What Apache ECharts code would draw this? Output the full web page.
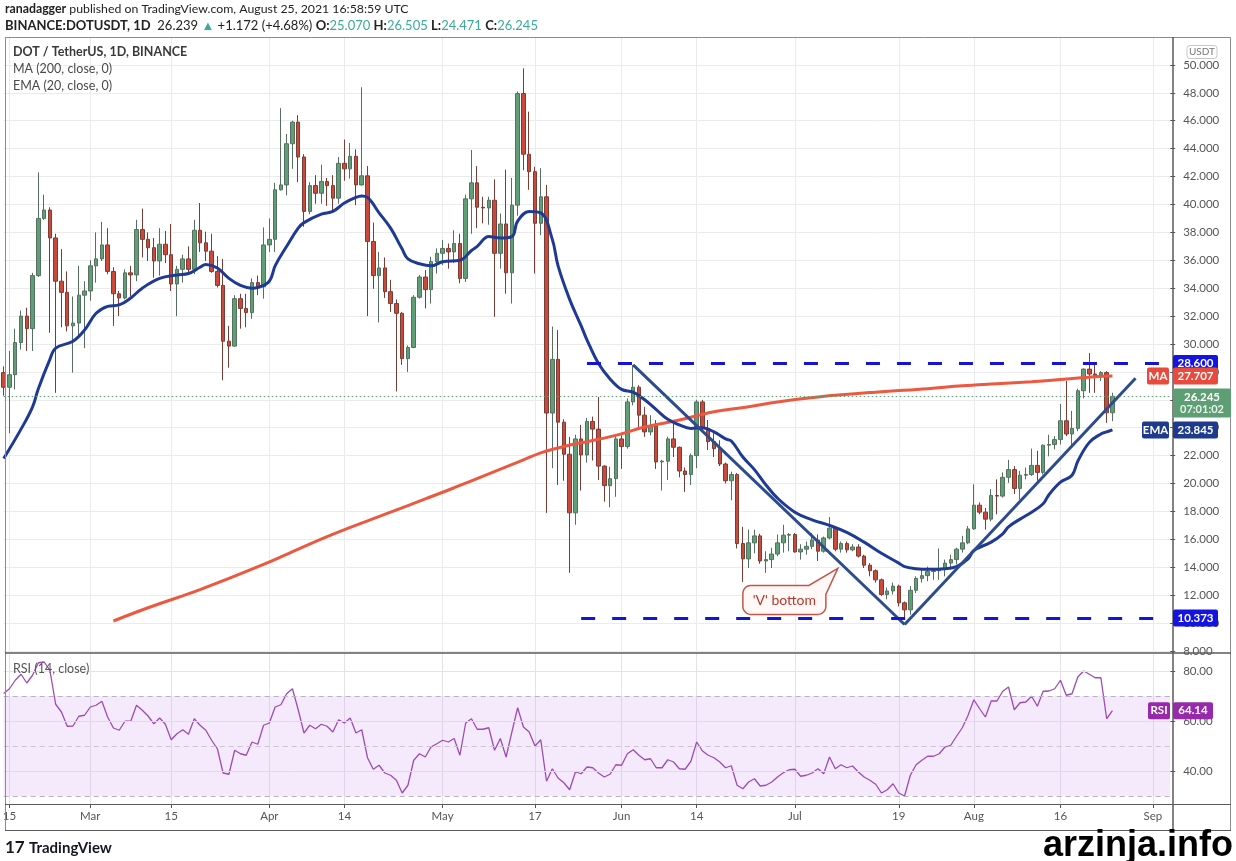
<!DOCTYPE html>
<html><head><meta charset="utf-8">
<script src="https://cdn.jsdelivr.net/npm/echarts@6/dist/echarts.min.js"></script>
<style>html,body{margin:0;padding:0;background:#fff;}#c{width:1236px;height:861px;}</style>
</head><body><div id="c"></div>
<script>
// ---------- data ----------
const firstDay = '2021-02-14';
const dayCount = 203; // axis runs to 2021-09-04
const tickDates = ['2021-02-15','2021-03-01','2021-03-15','2021-04-01','2021-04-14','2021-05-01','2021-05-17','2021-06-01','2021-06-14','2021-07-01','2021-07-19','2021-08-01','2021-08-16','2021-09-01'];
const tickTexts = ['15','Mar','15','Apr','14','May','17','Jun','14','Jul','19','Aug','16','Sep'];

// daily candles [open, high, low, close]
const febCandles = [
[27.95,28.4,26.3,26.9],[26.9,29.5,23.6,27.8],[27.8,31.1,26.75,30.1],[30.1,32.4,29.6,32.0],[32.0,32.6,29.5,31.1],
[31.1,35.1,29.5,34.9],[34.9,42.3,34.8,39.0],[39.0,40.7,38.9,39.6],[39.6,39.8,30.8,37.6],[37.6,37.9,26.5,34.5],
[34.5,36.8,31.2,33.7],[33.7,35.2,30.9,31.3],[31.3,33.4,27.95,31.5],[31.5,35.6,30.5,33.5],[33.5,34.5,29.7,33.8]];
const marCandles = [
[33.8,36.0,33.1,35.6],[35.6,38.0,34.4,36.1],[36.1,38.75,35.95,37.1],[37.1,38.3,35.0,35.2],[35.2,35.5,31.3,33.6],
[33.6,33.8,32.0,33.3],[33.3,35.35,33.2,35.1],[35.1,35.6,33.4,34.95],[34.95,38.9,34.5,38.2],[38.2,39.7,36.2,37.5],
[37.5,38.0,35.95,36.9],[36.9,37.6,34.75,35.95],[35.95,38.3,34.9,37.15],[37.15,38.1,35.8,36.4],[36.4,38.6,33.8,34.3],
[34.3,35.6,32.0,35.35],[35.35,36.4,34.4,36.1],[36.1,37.0,35.1,35.35],[35.35,38.9,35.0,38.15],[38.15,40.1,36.6,37.25],
[37.25,38.05,35.95,36.65],[36.65,37.9,35.1,35.2],[35.2,36.3,34.05,34.2],[34.2,36.1,27.4,30.2],[30.2,31.3,28.3,29.85],
[29.85,33.5,29.8,33.25],[33.25,33.6,31.1,32.55],[32.55,33.6,31.2,32.25],[32.25,34.7,31.8,34.4],[34.4,34.9,33.5,34.1],
[34.1,38.35,33.25,37.1]];
const aprCandles = [
[37.1,39.0,36.6,37.5],[37.5,41.55,36.6,41.05],[41.05,46.9,41.0,41.4],[41.4,45.05,40.65,44.35],[44.35,46.0,42.55,45.9],
[45.9,46.4,41.6,43.4],[43.4,43.6,38.4,39.5],[39.5,41.6,39.3,41.35],[41.35,42.1,40.05,40.8],[40.8,42.85,40.05,41.65],
[41.65,41.9,39.9,41.35],[41.35,42.1,39.55,40.45],[40.45,43.4,40.05,42.95],[42.95,44.65,41.7,42.55],[42.55,44.4,41.85,43.45],
[43.45,43.95,39.95,41.4],[41.4,48.4,41.35,42.05],[42.05,42.75,32.0,37.35],[37.35,38.7,33.95,34.9],[34.9,36.6,31.55,35.45],
[35.45,36.2,33.3,33.75],[33.75,34.6,32.3,32.9],[32.9,33.2,26.6,32.2],[32.2,32.3,28.5,28.95],[28.95,29.9,28.0,29.75],
[29.75,33.5,29.7,33.35],[33.35,34.95,33.25,34.8],[34.8,35.3,32.55,33.9],[33.9,36.25,32.9,35.9],[35.9,36.85,35.05,36.5]];
const mayCandles = [
[36.5,37.45,35.65,36.85],[36.85,37.2,35.4,36.6],[36.6,38.15,35.8,37.2],[37.2,37.9,34.35,34.7],[34.7,40.7,34.45,40.4],
[40.4,43.9,37.9,41.55],[41.55,42.75,38.3,39.8],[39.8,40.55,38.65,39.75],[39.75,40.55,38.55,40.3],[40.3,41.8,31.95,36.5],
[36.5,39.35,35.4,38.6],[38.6,42.5,33.6,35.1],[35.1,41.9,32.9,39.95],[39.95,48.1,39.2,47.95],[47.95,49.75,42.45,43.6],
[43.6,46.65,41.05,42.35],[42.35,42.7,35.05,38.65],[38.65,42.6,37.8,40.55],[40.55,41.4,17.9,25.05],[25.05,31.25,21.1,28.9],
[28.9,31.0,19.9,24.4],[24.4,24.6,20.2,22.1],[22.1,23.35,13.6,17.9],[17.9,23.5,17.05,23.2],[23.2,24.2,19.5,22.05],
[22.05,24.7,21.5,24.45],[24.45,24.8,21.65,23.9],[23.9,26.2,20.25,21.25],[21.25,21.3,18.7,19.85],[19.85,21.2,18.3,20.35],
[20.35,23.35,19.05,23.2]];
const junCandles = [
[23.2,23.45,21.05,22.65],[22.65,26.1,22.5,25.85],[25.85,28.5,25.6,26.9],[26.9,27.05,23.95,24.9],[24.9,25.5,23.35,23.7],
[23.7,24.9,23.45,24.1],[24.1,24.55,21.05,21.55],[21.55,21.7,19.5,21.6],[21.6,23.35,20.25,23.2],[23.2,24.4,21.9,22.6],
[22.6,22.65,20.45,20.9],[20.9,21.15,19.4,20.65],[20.65,22.15,19.9,22.0],[22.0,26.0,21.1,25.85],[25.85,26.0,23.8,23.95],
[23.95,24.55,22.4,23.0],[23.0,23.6,21.9,22.5],[22.5,23.1,21.25,21.4],[21.4,21.5,20.0,20.2],[20.2,20.85,18.8,20.65],
[20.65,20.75,15.35,15.7],[15.7,16.9,12.95,14.6],[14.6,16.7,13.95,15.75],[15.75,16.7,15.0,16.25],[16.25,16.4,14.25,14.45],
[14.45,15.15,13.6,14.55],[14.55,15.4,13.95,14.95],[14.95,16.35,14.8,15.75],[15.75,17.05,15.05,16.3],[16.3,16.45,15.15,16.35]];
const julCandles = [
[16.35,16.45,15.05,15.1],[15.1,15.65,14.55,15.3],[15.3,15.85,14.9,15.5],[15.5,16.45,15.3,15.95],[15.95,16.35,14.45,15.15],
[15.15,16.2,15.05,16.1],[16.1,17.6,16.0,16.8],[16.8,16.9,15.15,15.3],[15.3,15.85,15.05,15.7],[15.7,15.85,15.05,15.25],
[15.25,15.65,15.15,15.45],[15.45,15.65,14.7,14.8],[14.8,14.9,13.95,14.15],[14.15,14.3,13.35,13.75],[13.75,13.85,12.9,13.1],
[13.1,13.2,11.95,12.05],[12.05,12.55,11.7,12.3],[12.3,12.9,12.05,12.65],[12.65,12.75,11.2,11.45],[11.45,11.55,10.373,10.95],
[10.95,12.65,10.6,12.35],[12.35,13.35,12.15,13.2],[13.2,13.85,12.9,13.4],[13.4,14.05,13.0,13.7],[13.7,13.9,13.1,13.75],
[13.75,15.35,13.1,13.9],[13.9,14.55,13.35,14.3],[14.3,14.9,13.85,14.55],[14.55,15.4,14.2,15.3],[15.3,16.25,15.05,15.75],
[15.75,16.95,15.65,16.75]];
const augCandles = [
[16.75,19.95,16.7,18.45],[18.45,18.65,17.8,17.95],[17.95,18.25,16.7,17.45],[17.45,19.6,17.3,19.15],[19.15,20.3,17.8,19.1],
[19.1,20.8,19.0,20.45],[20.45,21.7,20.05,21.0],[21.0,21.25,19.25,19.65],[19.65,20.9,18.85,20.6],[20.6,21.15,20.3,20.65],
[20.65,22.5,20.55,21.3],[21.3,22.35,20.2,20.8],[20.8,22.8,20.65,22.75],[22.75,23.5,21.95,22.8],[22.8,23.4,22.45,23.15],
[23.15,25.7,22.8,24.5],[24.5,27.35,23.4,23.55],[23.55,25.2,22.7,23.95],[23.95,26.8,23.75,26.65],[26.65,28.25,26.1,28.2],
[28.2,29.35,26.5,27.85],[27.85,28.5,26.5,27.75],[27.75,28.05,27.35,27.95],[27.95,28.05,24.35,25.07],[25.07,26.505,24.471,26.245]];

// RSI(14) daily values
const rsiFeb = [71.0,72.9,76.3,78.7,75.2,78.3,83.3,83.6,80.3,66.7,63.6,57.9,58.0,61.9,62.3];
const rsiMar = [65.6,66.3,67.9,61.6,57.2,56.3,59.9,59.9,66.3,64.3,62.0,58.9,61.2,58.7,52.5,54.9,56.5,54.7,60.9,58.3,56.3,52.3,48.9,39.2,38.7,48.3,46.9,46.3,51.6,50.7,58.3];
const rsiApr = [59.2,65.6,66.5,70.9,72.9,64.5,55.2,58.3,56.9,58.7,57.9,55.6,60.5,59.2,61.2,55.2,56.5,45.3,40.7,42.3,39.2,38.3,36.3,31.2,34.3,44.3,46.9,45.6,49.6,50.9];
const rsiMay = [52.3,51.6,53.0,46.3,59.2,60.9,56.7,56.7,57.3,48.3,53.0,45.6,55.6,65.3,57.6,55.6,50.0,52.5,35.9,40.9,37.2,35.3,32.5,39.6,38.9,41.6,41.3,39.2,37.6,38.7,42.5];
const rsiJun = [42.3,46.9,48.5,46.3,44.5,44.9,41.3,41.3,44.5,43.6,40.9,40.7,43.9,51.6,48.0,46.3,45.3,43.6,41.3,42.1,34.3,32.9,35.6,36.9,34.0,34.3,35.6,37.6,39.3,40.5];
const rsiJul = [40.7,37.9,38.3,39.2,40.9,38.9,45.6,40.9,42.5,41.3,42.0,39.6,37.6,36.3,34.7,31.2,32.5,34.9,31.2,30.0,38.3,42.5,44.3,45.9,45.9,46.9,49.6,50.3,53.9,57.3,62.3];
const rsiAug = [68.5,64.9,61.6,68.0,68.0,71.9,73.6,64.5,67.3,67.6,69.9,65.9,71.9,72.0,72.9,76.3,70.3,70.9,77.6,80.0,78.7,77.3,77.3,60.9,64.14];

// EMA(20) and MA(200) at sample dates
const emaPoints = [
['2021-02-14',21.8],['2021-02-17',23.9],['2021-02-19',25.5],['2021-02-20',26.8],['2021-02-22',28.9],['2021-02-23',29.7],
['2021-02-26',30.2],['2021-02-28',31.0],['2021-03-02',32.2],['2021-03-04',32.7],['2021-03-06',32.8],['2021-03-08',33.3],
['2021-03-10',34.0],['2021-03-13',34.7],['2021-03-16',34.95],['2021-03-18',35.05],['2021-03-20',35.5],['2021-03-21',35.7],
['2021-03-23',35.45],['2021-03-25',34.7],['2021-03-27',34.2],['2021-03-29',34.0],['2021-03-30',34.05],['2021-04-01',34.5],
['2021-04-02',35.6],['2021-04-04',37.0],['2021-04-06',38.3],['2021-04-07',38.7],['2021-04-10',39.3],['2021-04-12',39.5],
['2021-04-14',40.1],['2021-04-16',40.5],['2021-04-17',40.6],['2021-04-18',40.5],['2021-04-20',39.4],['2021-04-22',38.3],
['2021-04-24',36.8],['2021-04-25',36.1],['2021-04-27',35.75],['2021-04-29',35.6],['2021-05-01',35.9],['2021-05-04',36.0],
['2021-05-06',36.7],['2021-05-07',37.0],['2021-05-09',37.7],['2021-05-11',37.6],['2021-05-13',37.7],['2021-05-14',38.8],
['2021-05-16',39.5],['2021-05-18',39.4],['2021-05-20',37.5],['2021-05-21',35.6],['2021-05-23',33.2],['2021-05-25',31.3],
['2021-05-26',30.3],['2021-05-28',28.6],['2021-05-30',27.5],['2021-06-01',26.75],['2021-06-03',26.55],['2021-06-05',26.0],
['2021-06-07',25.3],['2021-06-09',24.6],['2021-06-11',24.2],['2021-06-13',23.95],['2021-06-15',24.0],['2021-06-17',23.7],
['2021-06-19',23.2],['2021-06-20',23.05],['2021-06-22',21.9],['2021-06-24',21.0],['2021-06-26',19.9],['2021-06-28',18.95],
['2021-07-01',17.95],['2021-07-04',17.4],['2021-07-07',17.0],['2021-07-10',16.5],['2021-07-13',15.8],['2021-07-16',15.0],
['2021-07-19',14.3],['2021-07-20',14.05],['2021-07-22',13.9],['2021-07-24',13.85],['2021-07-27',13.9],['2021-07-29',14.05],
['2021-07-31',14.6],['2021-08-01',15.2],['2021-08-04',15.8],['2021-08-06',16.4],['2021-08-07',16.9],['2021-08-09',17.45],
['2021-08-11',17.95],['2021-08-13',18.55],['2021-08-14',19.2],['2021-08-16',20.1],['2021-08-18',20.6],['2021-08-19',21.6],
['2021-08-21',22.95],['2021-08-23',23.55],['2021-08-24',23.7],['2021-08-25',23.845]];
const maPoints = [
['2021-03-05',10.15],['2021-03-11',11.1],['2021-03-20',12.4],['2021-03-31',14.2],['2021-04-11',16.2],['2021-04-22',17.95],
['2021-04-28',18.9],['2021-05-03',19.7],['2021-05-09',20.7],['2021-05-15',21.7],['2021-05-18',22.2],['2021-05-21',22.55],
['2021-05-24',22.85],['2021-05-26',23.0],['2021-05-31',23.45],['2021-06-05',24.05],['2021-06-11',24.55],['2021-06-17',25.15],
['2021-06-23',25.5],['2021-06-28',25.85],['2021-07-05',26.2],['2021-07-15',26.55],['2021-07-24',26.8],['2021-07-30',27.0],
['2021-08-05',27.15],['2021-08-11',27.3],['2021-08-16',27.45],['2021-08-22',27.65],['2021-08-25',27.707]];

const resistanceLevel = 28.6, resistanceFrom = '2021-05-26';
const supportLevel = 10.373, supportFrom = '2021-05-25';
const lastPrice = 26.245, lastMA = 27.707, lastEMA = 23.845, lastRSI = 64.14;
const downTrend = [['2021-06-03',28.5],['2021-07-20',9.9]];
const upTrend = [['2021-07-20',9.9],['2021-08-29',27.55]];
const calloutAnchor = ['2021-06-22', 12.7];

// ---------- build ----------
const categories = [];
const t0 = Date.parse(firstDay + 'T00:00:00Z');
for (let i = 0; i < dayCount; i++) categories.push(new Date(t0 + i * 86400000).toISOString().slice(0, 10));
const tickMap = {};
tickDates.forEach((d, i) => tickMap[d] = tickTexts[i]);
const isTick = (i, v) => Object.prototype.hasOwnProperty.call(tickMap, v);

const candles = [].concat(febCandles, marCandles, aprCandles, mayCandles, junCandles, julCandles, augCandles);
const candleData = candles.map(r => [r[0], r[3], r[2], r[1]]);
const rsi = [].concat(rsiFeb, rsiMar, rsiApr, rsiMay, rsiJun, rsiJul, rsiAug);
const lastCat = categories[categories.length - 1];

const FONT = 'Lato, "Noto Sans", sans-serif';
const axisGray = '#555';

const chart = echarts.init(document.getElementById('c'));
const option = {
  animation: false,
  backgroundColor: '#ffffff',
  grid: [
    {left: 3.7, right: 65.8, top: 37, height: 614, outerBoundsMode: 'none'},
    {left: 3.7, right: 65.8, top: 653, height: 151, outerBoundsMode: 'none'}
  ],
  xAxis: [
    {type: 'category', gridIndex: 0, data: categories, boundaryGap: false,
     axisLine: {show: false}, axisTick: {show: false}, axisLabel: {show: false},
     splitLine: {show: true, interval: isTick, lineStyle: {color: '#ebebeb', width: 1}}},
    {type: 'category', gridIndex: 1, data: categories, boundaryGap: false,
     axisLine: {show: false},
     axisTick: {show: true, interval: isTick, length: 4, lineStyle: {color: axisGray}},
     axisLabel: {show: true, interval: isTick, formatter: v => tickMap[v] || '', color: '#555', fontSize: 11.5, fontFamily: FONT, margin: 6},
     splitLine: {show: true, interval: isTick, lineStyle: {color: '#e6e0ea', width: 1}}}
  ],
  yAxis: [
    {type: 'value', gridIndex: 0, position: 'right', min: 8, max: 52, interval: 2, scale: false,
     axisLine: {show: false}, axisTick: {show: true, length: 5, lineStyle: {color: axisGray}},
     axisLabel: {formatter: v => v <= 50 ? v.toFixed(3) : '', color: '#555', fontSize: 11.5, fontFamily: FONT, margin: 13},
     splitLine: {show: true, lineStyle: {color: '#ebebeb', width: 1}}},
    {type: 'value', gridIndex: 1, position: 'right', min: 26.8, max: 87.2,
     axisLine: {show: false},
     axisTick: {show: true, length: 5, customValues: [40, 60, 80], lineStyle: {color: axisGray}},
     axisLabel: {customValues: [40, 60, 80], formatter: v => Number(v).toFixed(2), color: '#555', fontSize: 11.5, fontFamily: FONT, margin: 13},
     splitLine: {show: false}}
  ],
  series: [
    {type: 'candlestick', name: 'DOT', xAxisIndex: 0, yAxisIndex: 0, data: candleData, barWidth: 4,
     itemStyle: {color: '#5f9f77', color0: '#c9493a', borderColor: '#55705e', borderColor0: '#7a3d35', borderWidth: 1},
     markLine: {silent: true, symbol: ['none', 'none'], label: {show: false},
       data: [
         {yAxis: lastPrice, lineStyle: {color: '#5a9e6f', type: [1.5, 2.5], width: 1}},
         [{coord: [resistanceFrom, resistanceLevel], lineStyle: {color: '#1414d8', type: [14, 17], width: 3}}, {coord: [lastCat, resistanceLevel]}],
         [{coord: [supportFrom, supportLevel], lineStyle: {color: '#1414d8', type: [14, 17], width: 3}}, {coord: [lastCat, supportLevel]}]
       ]}},
    {type: 'line', name: 'MA 200', xAxisIndex: 0, yAxisIndex: 0, data: maPoints, smooth: 0.4, showSymbol: false, silent: true,
     lineStyle: {color: '#ec5840', width: 3}},
    {type: 'line', name: 'EMA 20', xAxisIndex: 0, yAxisIndex: 0, data: emaPoints, smooth: 0.4, showSymbol: false, silent: true,
     lineStyle: {color: '#1f3a94', width: 3}},
    {type: 'line', name: 'down trend', xAxisIndex: 0, yAxisIndex: 0, data: downTrend, showSymbol: false, silent: true,
     lineStyle: {color: '#2d4c8c', width: 3}},
    {type: 'line', name: 'up trend', xAxisIndex: 0, yAxisIndex: 0, data: upTrend, showSymbol: false, silent: true,
     lineStyle: {color: '#2d4c8c', width: 3}},
    {type: 'line', name: 'RSI', xAxisIndex: 1, yAxisIndex: 1, data: rsi, showSymbol: false, silent: true,
     lineStyle: {color: '#9d4cb3', width: 1.3},
     markArea: {silent: true, itemStyle: {color: 'rgba(205,160,240,0.22)'}, data: [[{yAxis: 30}, {yAxis: 70}]]},
     markLine: {silent: true, symbol: ['none', 'none'], label: {show: false},
       data: [
         {yAxis: 80, lineStyle: {color: '#e4e4e4', type: 'solid', width: 1}},
         {yAxis: 60, lineStyle: {color: '#e2d9e8', type: 'solid', width: 1}},
         {yAxis: 40, lineStyle: {color: '#e2d9e8', type: 'solid', width: 1}},
         {yAxis: 70, lineStyle: {color: '#b9b0c2', type: [5, 4], width: 1}},
         {yAxis: 50, lineStyle: {color: '#cbc3d2', type: [5, 4], width: 1}},
         {yAxis: 30, lineStyle: {color: '#b9b0c2', type: [5, 4], width: 1}}
       ]}}
  ]
};
chart.setOption(option);

// ---------- annotations / chrome ----------
const G = [];
function st(font, fill, align, extra) {
  return Object.assign({font, fill, align: align || 'left', textAlign: align || 'left', verticalAlign: 'middle', textVerticalAlign: 'middle'}, extra || {});
}
function txt(x, y, text, style, z) { G.push({type: 'text', z: z || 110, silent: true, x, y, style: Object.assign({text}, style)}); }
function box(x, y, w, h, fill, stroke, r) {
  G.push({type: 'rect', z: 105, silent: true, shape: {x, y, width: w, height: h, r: r == null ? 2 : r},
          style: {fill, stroke: stroke || null, lineWidth: stroke ? 1 : 0}});
}
function line(x1, y1, x2, y2, color, w) {
  G.push({type: 'line', z: 104, silent: true, shape: {x1, y1, x2, y2}, style: {stroke: color, lineWidth: w}});
}
const yP = v => chart.convertToPixel({yAxisIndex: 0}, v);
const yR = v => chart.convertToPixel({yAxisIndex: 1}, v);
const TAG = 'bold 11.5px ' + FONT;

// frame
G.push({type: 'rect', z: 103, silent: true, shape: {x: 5.5, y: 37.5, width: 1225, height: 793}, style: {fill: 'none', stroke: '#8c8c8c', lineWidth: 1}});
line(5, 653, 1231, 653, '#5a5a5a', 1.5);
line(5, 804.5, 1231, 804.5, '#5a5a5a', 1.2);
line(5, 830.5, 1231, 830.5, '#5a5a5a', 1.2);
line(1173, 37, 1173, 831, '#5a5a5a', 1.5);

// header
txt(5, 9, '{b|ranadagger} published on TradingView.com, August 25, 2021 16:58:59 UTC',
  st('12.3px ' + FONT, '#222', 'left', {rich: {b: {fontFamily: FONT, fontSize: 12.3, fontWeight: 'bold', fill: '#222'}}}));
txt(5, 25.5, '{b|BINANCE:DOTUSDT, 1D}  26.239 {g|▲} +1.172 (+4.68%) {b|O:}{g|25.070} {b|H:}{g|26.505} {b|L:}{g|24.471} {b|C:}{g|26.245}',
  st('13px ' + FONT, '#222', 'left', {rich: {
    b: {fontFamily: FONT, fontSize: 13, fontWeight: 'bold', fill: '#222'},
    g: {fontFamily: FONT, fontSize: 13, fill: '#3aab9a'}}}));

// legends
txt(13, 52, 'DOT / TetherUS, 1D, BINANCE', st('bold 12.5px ' + FONT, '#3a3a3a'));
txt(13, 69, 'MA (200, close, 0)', st('12.5px ' + FONT, '#4a4a4a'));
txt(13, 86, 'EMA (20, close, 0)', st('12.5px ' + FONT, '#4a4a4a'));
txt(13, 669, 'RSI (14, close)', st('12.5px ' + FONT, '#555'));

// USDT badge
box(1187, 45.5, 30, 13, '#ffffff', '#c8c8c8', 3);
txt(1202, 52, 'USDT', st('10px ' + FONT, '#777', 'center'));

// price-axis tags
function valueTag(v, bg, label, w) {
  const y = yP(v);
  box(1173, y - 8.5, w || 45, 17, bg);
  txt(1173 + (w || 45) / 2, y, label, st(TAG, '#fff', 'center'));
  return y;
}
valueTag(resistanceLevel, '#1414e0', resistanceLevel.toFixed(3));
const yMA = valueTag(lastMA, '#e84a3d', lastMA.toFixed(3));
box(1147, yMA - 8.5, 22, 17, '#e84a3d'); txt(1158, yMA, 'MA', st(TAG, '#fff', 'center'));
const yLast = yP(lastPrice);
box(1173, yLast - 8, 58, 29, '#5e9e74');
txt(1202, yLast + 0.5, lastPrice.toFixed(3), st(TAG, '#fff', 'center'));
txt(1202, yLast + 13.5, '07:01:02', st('bold 11px ' + FONT, '#e8f3ec', 'center'));
const yEMA = valueTag(lastEMA, '#1d3a8f', lastEMA.toFixed(3));
box(1142, yEMA - 8.5, 27, 17, '#1d3a8f'); txt(1155.5, yEMA, 'EMA', st(TAG, '#fff', 'center'));
valueTag(supportLevel, '#1414e0', supportLevel.toFixed(3));
const yRsi = yR(lastRSI);
box(1173, yRsi - 8.5, 40, 17, '#972aab'); txt(1193, yRsi, lastRSI.toFixed(2), st(TAG, '#fff', 'center'));
box(1148, yRsi - 8.5, 22, 17, '#972aab'); txt(1159, yRsi, 'RSI', st(TAG, '#fff', 'center'));

// callout "'V' bottom"
(function () {
  const p = chart.convertToPixel({xAxisIndex: 0, yAxisIndex: 0}, calloutAnchor);
  const W = 83, H = 29, R = 8;
  const arc = (cx, cy, a0, a1) => { const o = []; for (let i = 0; i <= 6; i++) { const a = a0 + (a1 - a0) * i / 6; o.push([cx + R * Math.cos(a), cy + R * Math.sin(a)]); } return o; };
  const pts = [].concat(arc(R, R, Math.PI, 1.5 * Math.PI), [[66, 0], [95, -17], [W, 9]],
    arc(W - R, H - R, 0, 0.5 * Math.PI), arc(R, H - R, 0.5 * Math.PI, Math.PI));
  G.push({type: 'polygon', z: 106, silent: true, x: p[0], y: p[1], shape: {points: pts},
          style: {fill: '#fff8f6', stroke: '#c5554a', lineWidth: 1.5}});
  txt(p[0] + W / 2, p[1] + H / 2 + 0.5, "'V' bottom", st('14px ' + FONT, '#b03a2e', 'center'), 107);
})();

// footer
txt(5, 848, '17', st('bold 17px ' + FONT, '#131722', 'left', {letterSpacing: -1}));
txt(29, 848, 'TradingView', st('bold 15px ' + FONT, '#131722'));
txt(1233, 846, 'arzinja.info', st('bold 36px "Liberation Sans", Arial, sans-serif', '#000', 'right'));

chart.setOption({graphic: {elements: G}});
</script>
</body></html>
